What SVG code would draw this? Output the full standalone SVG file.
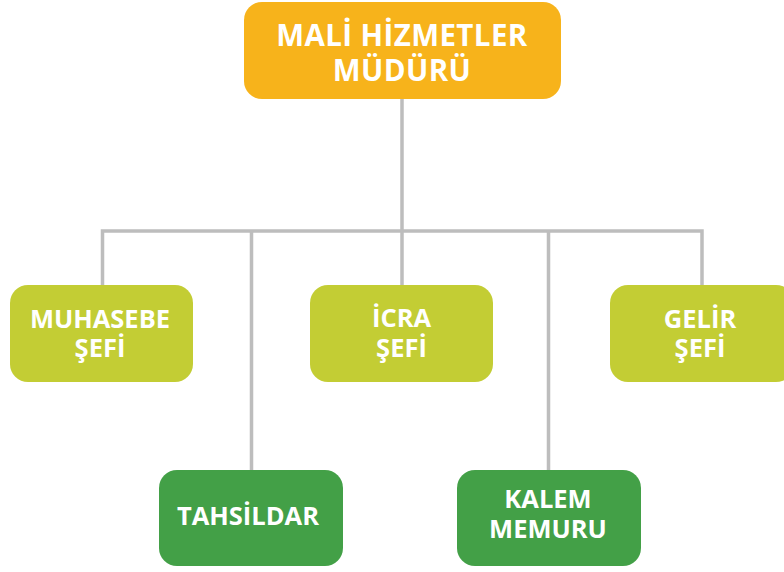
<svg xmlns="http://www.w3.org/2000/svg" width="784" height="572" viewBox="0 0 784 572">
<style>
.t{font-family:"Open Sans","Liberation Sans",sans-serif;font-weight:bold;fill:#fff;text-anchor:middle}
.top{font-size:29.5px;letter-spacing:0.4px}
.n{font-size:25.5px}
.c{stroke:#BDBDBD;stroke-width:3.5;fill:none}
</style>
<rect width="784" height="572" fill="#fff"/>
<g id="connectors">
<line class="c" x1="402" y1="98" x2="402" y2="231"/>
<polyline class="c" points="102.5,285 102.5,231 702,231 702,285"/>
<line class="c" x1="251.5" y1="231" x2="251.5" y2="470"/>
<line class="c" x1="402" y1="231" x2="402" y2="285"/>
<line class="c" x1="548.5" y1="231" x2="548.5" y2="470"/>
</g>
<g id="mudur">
<rect x="244" y="2" width="317" height="97" rx="18" fill="#F7B31B"/>
<text class="t top" x="402" y="46">MALİ HİZMETLER</text>
<text class="t top" x="402" y="81">MÜDÜRÜ</text>
</g>
<g id="muhasebe">
<rect x="10" y="285" width="183" height="97" rx="18" fill="#C3CD34"/>
<text class="t n" x="100" y="328">MUHASEBE</text>
<text class="t n" x="100" y="357">ŞEFİ</text>
</g>
<g id="icra">
<rect x="310" y="285" width="183" height="97" rx="18" fill="#C3CD34"/>
<text class="t n" x="401.5" y="327">İCRA</text>
<text class="t n" x="401.5" y="357">ŞEFİ</text>
</g>
<g id="gelir">
<rect x="610" y="285" width="184" height="97" rx="18" fill="#C3CD34"/>
<text class="t n" x="700" y="328">GELİR</text>
<text class="t n" x="700" y="357">ŞEFİ</text>
</g>
<g id="tahsildar">
<rect x="159" y="470" width="184" height="96" rx="18" fill="#43A047"/>
<text class="t n" x="248" y="525">TAHSİLDAR</text>
</g>
<g id="kalem">
<rect x="457" y="470" width="184" height="96" rx="18" fill="#43A047"/>
<text class="t n" x="548" y="508">KALEM</text>
<text class="t n" x="548" y="538">MEMURU</text>
</g>
</svg>
